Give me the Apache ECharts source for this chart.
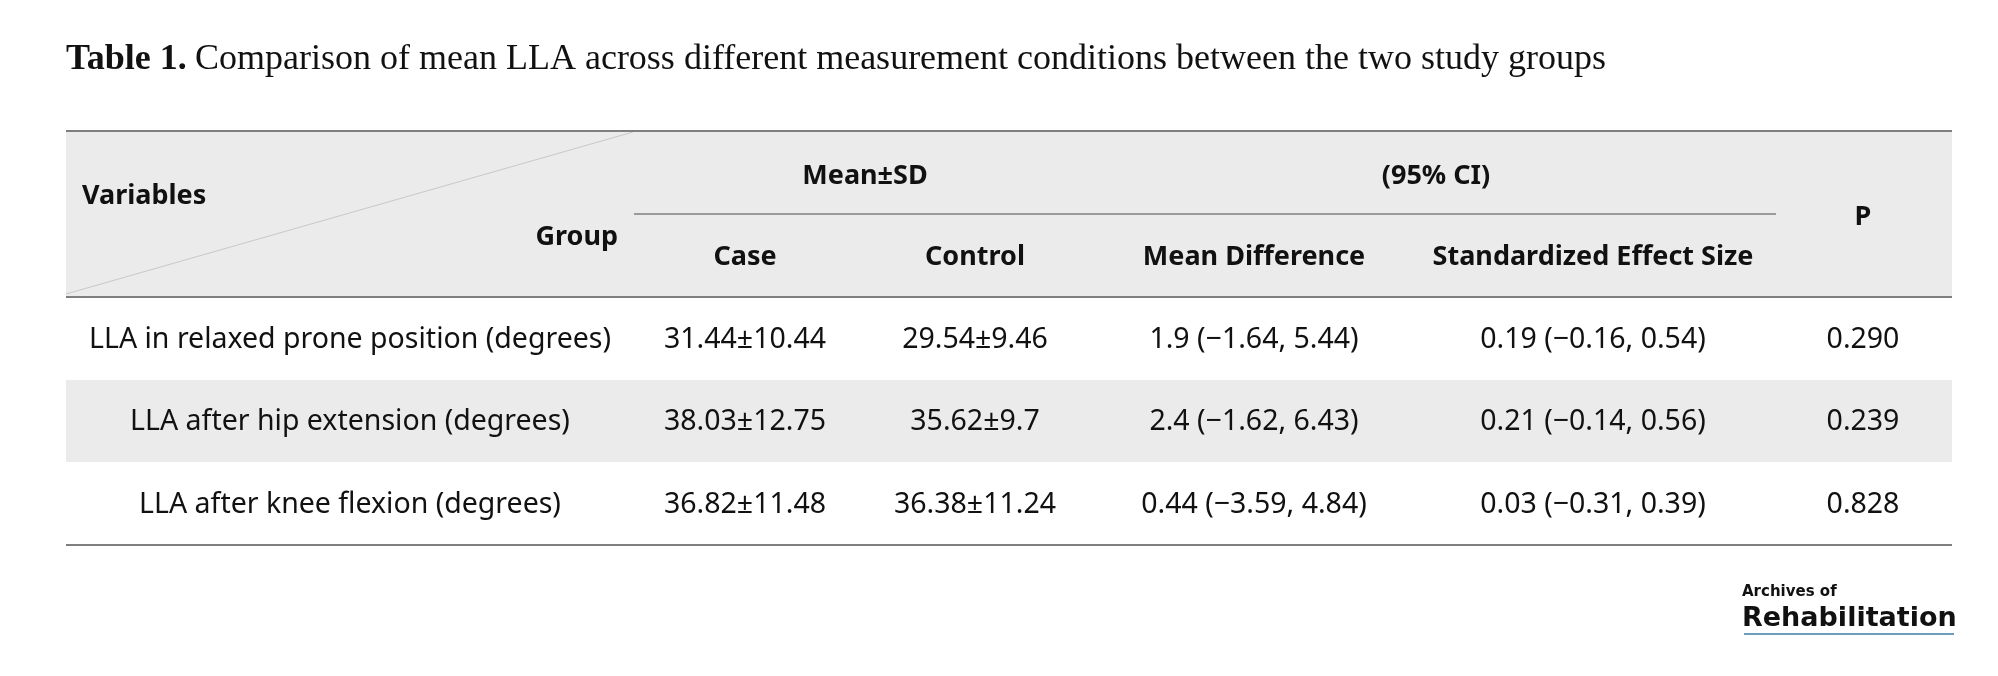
<!DOCTYPE html>
<html><head><meta charset="utf-8">
<script src="https://cdn.jsdelivr.net/npm/echarts@6/dist/echarts.min.js"></script>
<style>html,body{margin:0;background:#fff}#c{width:1998px;height:676px}</style>
</head><body><div id="c"></div>
<script>
const titleBold = 'Table 1.';
const titleText = 'Comparison of mean LLA across different measurement conditions between the two study groups';
const variables = ['LLA in relaxed prone position (degrees)','LLA after hip extension (degrees)','LLA after knee flexion (degrees)'];
const caseVals = ['31.44±10.44','38.03±12.75','36.82±11.48'];
const controlVals = ['29.54±9.46','35.62±9.7','36.38±11.24'];
const meanDiff = ['1.9 (−1.64, 5.44)','2.4 (−1.62, 6.43)','0.44 (−3.59, 4.84)'];
const effectSize = ['0.19 (−0.16, 0.54)','0.21 (−0.14, 0.56)','0.03 (−0.31, 0.39)'];
const pVals = ['0.290','0.239','0.828'];

const F = 'Noto Sans';
const colX = [350, 745, 975, 1254, 1593, 1863];
const rowY = [340, 422, 505];
const g = [];
function txt(x,y,t,o){g.push({type:'text',x:x,y:y,style:Object.assign({text:t,font:'28.5px "'+F+'"',fill:'#111',textAlign:'center',textVerticalAlign:'middle'},o||{})});}
function line(x1,y1,x2,y2,c,w){g.push({type:'line',shape:{x1,y1,x2,y2},style:{stroke:c,lineWidth:w}});}
function rect(x,y,w,h,c){g.push({type:'rect',shape:{x,y,width:w,height:h},style:{fill:c}});}

rect(66,131,1886,166,'#ebebeb');
rect(66,380,1886,82,'#ebebeb');
line(66,294,633,132,'#c8c8c8',1);
line(66,131,1952,131,'#7f7f7f',2);
line(634,214,1776,214,'#7f7f7f',1.5);
line(66,297,1952,297,'#7f7f7f',2);
line(66,545,1952,545,'#7f7f7f',2);

g.push({type:'text',x:66,y:60,style:{text:titleBold,font:'bold 36px "Liberation Serif"',fill:'#111',textVerticalAlign:'middle'}});
g.push({type:'text',x:195,y:60,style:{text:titleText,font:'36px "Liberation Serif"',fill:'#111',textVerticalAlign:'middle'}});

const hb = {font:'bold 27px "'+F+'"'};
txt(82,196,'Variables',Object.assign({textAlign:'left'},hb));
txt(618,237,'Group',Object.assign({textAlign:'right'},hb));
txt(865,176,'Mean±SD',hb);
txt(1436,176,'(95% CI)',hb);
txt(1863,217,'P',hb);
['Case','Control','Mean Difference','Standardized Effect Size'].forEach((h,i)=>txt(colX[i+1],257,h,hb));

variables.forEach((v,i)=>{
  [v,caseVals[i],controlVals[i],meanDiff[i],effectSize[i],pVals[i]].forEach((t,j)=>txt(colX[j],rowY[i],t));
});

g.push({type:'text',x:1742,y:592,style:{text:'Archives of',font:'bold 15px "DejaVu Sans"',fill:'#111',textVerticalAlign:'middle'}});
g.push({type:'text',x:1742,y:619,style:{text:'Rehabilitation',font:'bold 27px "DejaVu Sans"',fill:'#111',textVerticalAlign:'middle'}});
line(1744,634,1954,634,'#3a7ca5',1.5);

const chart = echarts.init(document.getElementById('c'));
chart.setOption({animation:false,graphic:g});
</script></body></html>
